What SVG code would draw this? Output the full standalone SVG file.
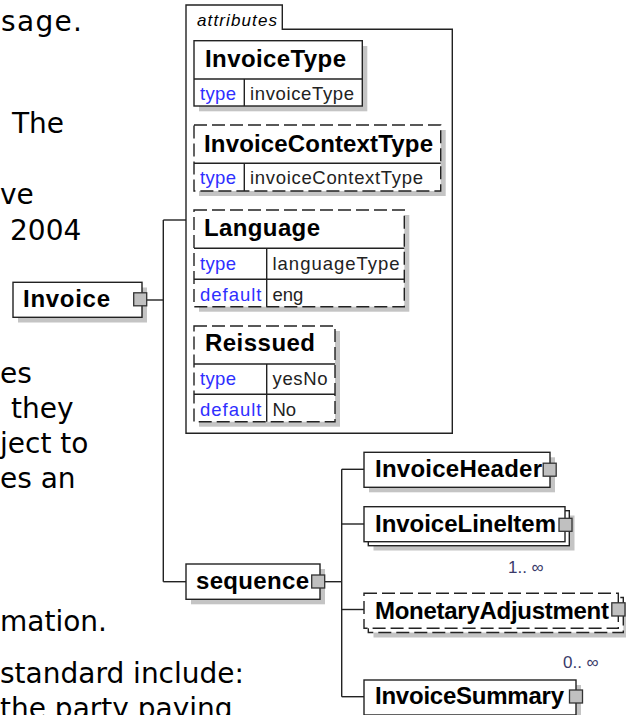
<svg xmlns="http://www.w3.org/2000/svg" width="626" height="715" viewBox="0 0 626 715">
<defs>
<style>
.bg{fill:#fff}
.box{fill:#fff;stroke:#222;stroke-width:1.4}
.dash{stroke-dasharray:13 5}
.shadow{fill:#c4c4c4}
.sq{fill:#c0c0c0;stroke:#333;stroke-width:1.3}
.ln{stroke:#222;stroke-width:1.4;fill:none}
.name{font-family:"Liberation Sans",Arial,sans-serif;font-weight:bold;font-size:24px;fill:#000}
.key{font-family:"Liberation Sans",Arial,sans-serif;font-size:18.5px;fill:#2f2fff}
.val{font-family:"Liberation Sans",Arial,sans-serif;font-size:18.5px;fill:#222}
.occ{font-family:"Liberation Sans",Arial,sans-serif;font-size:17px;fill:#3a3a6a}
.cap{font-family:"Liberation Sans",Arial,sans-serif;font-style:italic;font-size:17px;fill:#000}
.body{font-family:"DejaVu Sans",Verdana,sans-serif;font-size:28px;fill:#000}
</style>
</defs>
<rect class="bg" x="0" y="0" width="626" height="715"/>

<g id="body-text">
<text class="body" x="1" y="30.7" textLength="81">sage.</text>
<text class="body" x="12" y="133.3">The</text>
<text class="body" x="0" y="204">ve</text>
<text class="body" x="10" y="240">2004</text>
<text class="body" x="0" y="383.3">es</text>
<text class="body" x="11" y="418.3">they</text>
<text class="body" x="0" y="453.3">ject to</text>
<text class="body" x="0" y="488.3">es an</text>
<text class="body" x="0" y="630.7">mation.</text>
<text class="body" x="0" y="683.3">standard include:</text>
<text class="body" x="0" y="718.3">the party paying</text>
</g>

<g id="connectors">
<line class="ln" x1="147" y1="300" x2="163.3" y2="300"/>
<line class="ln" x1="163.3" y1="220" x2="163.3" y2="581.7"/>
<line class="ln" x1="163.3" y1="220" x2="186" y2="220"/>
<line class="ln" x1="163.3" y1="581.7" x2="186" y2="581.7"/>
<line class="ln" x1="325" y1="581.7" x2="341.7" y2="581.7"/>
<line class="ln" x1="341.7" y1="469.3" x2="341.7" y2="696.7"/>
<line class="ln" x1="341.7" y1="469.3" x2="364" y2="469.3"/>
<line class="ln" x1="341.7" y1="524" x2="364" y2="524"/>
<line class="ln" x1="341.7" y1="609.5" x2="364" y2="609.5"/>
<line class="ln" x1="341.7" y1="696.7" x2="364" y2="696.7"/>
</g>

<g id="node-invoice">
<rect class="shadow" x="18" y="287.5" width="129" height="35"/>
<rect class="box" x="13" y="282.3" width="129" height="35"/>
<text class="name" x="23" y="307.3" textLength="87">Invoice</text>
<rect class="sq" x="133.7" y="292.8" width="13" height="13"/>
</g>

<g id="attributes">
<path class="box" d="M186,433.3 V5 H282.3 V29.3 H452.3 V433.3 Z"/>
<text class="cap" x="197" y="26" textLength="80">attributes</text>
</g>

<g id="attr-invoicetype">
<rect class="shadow" x="199" y="46" width="168.3" height="65.3"/>
<rect class="box" x="194" y="40.7" width="168.3" height="65.3"/>
<line class="ln" x1="194" y1="79" x2="362.3" y2="79"/>
<line class="ln" x1="244.3" y1="79" x2="244.3" y2="106"/>
<text class="name" x="205" y="66.7" textLength="141">InvoiceType</text>
<text class="key" x="200" y="100" textLength="36">type</text>
<text class="val" x="250" y="100" textLength="104">invoiceType</text>
</g>

<g id="attr-invoicecontexttype">
<rect class="shadow" x="199" y="130" width="246.7" height="66"/>
<rect class="box dash" x="194" y="125" width="246.7" height="66"/>
<line class="ln" x1="194" y1="163.3" x2="440.7" y2="163.3"/>
<line class="ln" x1="244.3" y1="163.3" x2="244.3" y2="191"/>
<text class="name" x="204" y="151.7" textLength="229">InvoiceContextType</text>
<text class="key" x="200" y="184.3" textLength="36">type</text>
<text class="val" x="250" y="184.3" textLength="173">invoiceContextType</text>
</g>

<g id="attr-language">
<rect class="shadow" x="199" y="215" width="210.3" height="96.7"/>
<rect class="box dash" x="194" y="210" width="210.3" height="96.7"/>
<line class="ln" x1="194" y1="248.3" x2="404.3" y2="248.3"/>
<line class="ln" x1="194" y1="279.3" x2="404.3" y2="279.3"/>
<line class="ln" x1="266.7" y1="248.3" x2="266.7" y2="306.7"/>
<text class="name" x="204" y="236" textLength="116">Language</text>
<text class="key" x="200" y="269.5" textLength="36">type</text>
<text class="val" x="272.5" y="269.5" textLength="127">languageType</text>
<text class="key" x="200" y="300.5" textLength="61.5">default</text>
<text class="val" x="272.5" y="300.5">eng</text>
</g>

<g id="attr-reissued">
<rect class="shadow" x="199" y="331" width="141" height="95.7"/>
<rect class="box dash" x="194" y="326" width="141" height="95.7"/>
<line class="ln" x1="194" y1="364" x2="335" y2="364"/>
<line class="ln" x1="194" y1="394.3" x2="335" y2="394.3"/>
<line class="ln" x1="266.7" y1="364" x2="266.7" y2="421.7"/>
<text class="name" x="205" y="351" textLength="110">Reissued</text>
<text class="key" x="200" y="385.3" textLength="36">type</text>
<text class="val" x="272.5" y="385.3" textLength="55">yesNo</text>
<text class="key" x="200" y="415.5" textLength="61.5">default</text>
<text class="val" x="272.5" y="415.5">No</text>
</g>

<g id="node-sequence">
<rect class="shadow" x="191" y="569" width="134" height="35.3"/>
<rect class="box" x="186" y="564" width="134" height="35.3"/>
<text class="name" x="196" y="589" textLength="113">sequence</text>
<rect class="sq" x="311.7" y="575" width="13" height="13"/>
</g>

<g id="node-invoiceheader">
<rect class="shadow" x="369" y="457.3" width="186" height="35"/>
<rect class="box" x="364" y="452.3" width="186" height="35"/>
<text class="name" x="375" y="477.3" textLength="167">InvoiceHeader</text>
<rect class="sq" x="543.2" y="463.2" width="13" height="13"/>
</g>

<g id="node-invoicelineitem">
<rect class="shadow" x="373.5" y="515.5" width="201" height="35"/>
<rect class="box" x="368.3" y="510.7" width="201" height="35"/>
<rect class="box" x="364" y="506.7" width="201" height="35"/>
<text class="name" x="375" y="532.3" textLength="181">InvoiceLineItem</text>
<rect class="sq" x="559" y="518.3" width="13" height="13"/>
<text class="occ" x="508" y="572.7">1.. ∞</text>
</g>

<g id="node-monetaryadjustment">
<rect class="shadow" x="373.5" y="602.5" width="255" height="35"/>
<rect class="box dash" x="368.3" y="597.5" width="255" height="35"/>
<rect class="box dash" x="364" y="593.3" width="254.3" height="35"/>
<text class="name" x="375" y="619" textLength="234">MonetaryAdjustment</text>
<rect class="sq" x="611.8" y="602.8" width="13.2" height="13.2"/>
<text class="occ" x="563" y="667.7">0.. ∞</text>
</g>

<g id="node-invoicesummary">
<rect class="shadow" x="369" y="685" width="212" height="35"/>
<rect class="box" x="364" y="680" width="212" height="35"/>
<text class="name" x="375" y="704" textLength="189">InvoiceSummary</text>
<rect class="sq" x="569.5" y="690" width="13" height="13"/>
</g>
</svg>
